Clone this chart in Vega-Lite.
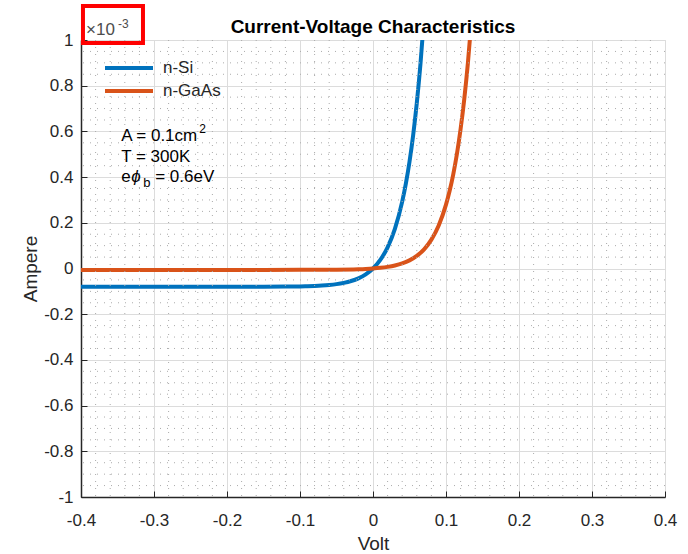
{
  "$schema": "https://vega.github.io/schema/vega-lite/v6.json",
  "autosize": {"type": "none"},
  "width": 584,
  "height": 457,
  "padding": {"left": 81, "top": 40, "right": 23, "bottom": 57},
  "background": "white",
  "title": {"text": "Current-Voltage Characteristics", "fontSize": 19, "fontWeight": "bold", "color": "#000000", "anchor": "middle", "offset": -48, "baseline": "alphabetic", "frame": "group"},
  "config": {
    "font": "Liberation Sans",
    "view": {"stroke": "#d9d9d9", "strokeWidth": 1},
    "axis": {
      "labelFont": "Liberation Sans",
      "titleFont": "Liberation Sans",
      "labelFontSize": 17,
      "titleFontSize": 19,
      "titleFontWeight": "normal",
      "labelColor": "#262626",
      "titleColor": "#262626",
      "domainColor": "#262626",
      "domainWidth": 1.5,
      "tickColor": "#262626",
      "tickSize": -6,
      "tickWidth": 1,
      "gridColor": "#dcdcdc",
      "gridWidth": 1,
      "labelFlush": false,
      "labelOverlap": false
    }
  },
  "datasets": {
    "curves": [
      {"series": "n-Si", "x": -0.4, "y": -0.08},
      {"series": "n-Si", "x": -0.3, "y": -0.08},
      {"series": "n-Si", "x": -0.2, "y": -0.07996},
      {"series": "n-Si", "x": -0.15, "y": -0.07975},
      {"series": "n-Si", "x": -0.12, "y": -0.07921},
      {"series": "n-Si", "x": -0.1, "y": -0.07829},
      {"series": "n-Si", "x": -0.09, "y": -0.07749},
      {"series": "n-Si", "x": -0.08, "y": -0.07631},
      {"series": "n-Si", "x": -0.07, "y": -0.07458},
      {"series": "n-Si", "x": -0.06, "y": -0.07204},
      {"series": "n-Si", "x": -0.05, "y": -0.06831},
      {"series": "n-Si", "x": -0.04, "y": -0.06282},
      {"series": "n-Si", "x": -0.03, "y": -0.05477},
      {"series": "n-Si", "x": -0.02, "y": -0.04293},
      {"series": "n-Si", "x": -0.01, "y": -0.02554},
      {"series": "n-Si", "x": 0, "y": 0},
      {"series": "n-Si", "x": 0.01, "y": 0.03752},
      {"series": "n-Si", "x": 0.02, "y": 0.09264},
      {"series": "n-Si", "x": 0.03, "y": 0.17363},
      {"series": "n-Si", "x": 0.04, "y": 0.2926},
      {"series": "n-Si", "x": 0.045, "y": 0.37162},
      {"series": "n-Si", "x": 0.05, "y": 0.46737},
      {"series": "n-Si", "x": 0.055, "y": 0.58343},
      {"series": "n-Si", "x": 0.06, "y": 0.72409},
      {"series": "n-Si", "x": 0.065, "y": 0.8946},
      {"series": "n-Si", "x": 0.07, "y": 1.10125},
      {"series": "n-Si", "x": 0.075, "y": 1.35168},
      {"series": "n-GaAs", "x": -0.4, "y": -0.0061},
      {"series": "n-GaAs", "x": -0.3, "y": -0.0061},
      {"series": "n-GaAs", "x": -0.2, "y": -0.0061},
      {"series": "n-GaAs", "x": -0.1, "y": -0.00597},
      {"series": "n-GaAs", "x": -0.05, "y": -0.00521},
      {"series": "n-GaAs", "x": -0.02, "y": -0.00327},
      {"series": "n-GaAs", "x": -0.01, "y": -0.00195},
      {"series": "n-GaAs", "x": 0, "y": 0},
      {"series": "n-GaAs", "x": 0.01, "y": 0.00286},
      {"series": "n-GaAs", "x": 0.02, "y": 0.00706},
      {"series": "n-GaAs", "x": 0.03, "y": 0.01325},
      {"series": "n-GaAs", "x": 0.04, "y": 0.02231},
      {"series": "n-GaAs", "x": 0.05, "y": 0.03564},
      {"series": "n-GaAs", "x": 0.06, "y": 0.05521},
      {"series": "n-GaAs", "x": 0.07, "y": 0.08397},
      {"series": "n-GaAs", "x": 0.08, "y": 0.12622},
      {"series": "n-GaAs", "x": 0.09, "y": 0.18829},
      {"series": "n-GaAs", "x": 0.1, "y": 0.27948},
      {"series": "n-GaAs", "x": 0.105, "y": 0.34},
      {"series": "n-GaAs", "x": 0.11, "y": 0.41337},
      {"series": "n-GaAs", "x": 0.115, "y": 0.50227},
      {"series": "n-GaAs", "x": 0.12, "y": 0.61012},
      {"series": "n-GaAs", "x": 0.125, "y": 0.74078},
      {"series": "n-GaAs", "x": 0.13, "y": 0.89921},
      {"series": "n-GaAs", "x": 0.135, "y": 1.09117},
      {"series": "n-GaAs", "x": 0.14, "y": 1.3237}
    ],
    "minorX": [
      {"x": -0.38}, {"x": -0.36}, {"x": -0.34}, {"x": -0.32},
      {"x": -0.28}, {"x": -0.26}, {"x": -0.24}, {"x": -0.22},
      {"x": -0.18}, {"x": -0.16}, {"x": -0.14}, {"x": -0.12},
      {"x": -0.08}, {"x": -0.06}, {"x": -0.04}, {"x": -0.02},
      {"x": 0.02}, {"x": 0.04}, {"x": 0.06}, {"x": 0.08},
      {"x": 0.12}, {"x": 0.14}, {"x": 0.16}, {"x": 0.18},
      {"x": 0.22}, {"x": 0.24}, {"x": 0.26}, {"x": 0.28},
      {"x": 0.32}, {"x": 0.34}, {"x": 0.36}, {"x": 0.38}
    ],
    "minorY": [
      {"y": -0.95}, {"y": -0.9}, {"y": -0.85},
      {"y": -0.75}, {"y": -0.7}, {"y": -0.65},
      {"y": -0.55}, {"y": -0.5}, {"y": -0.45},
      {"y": -0.35}, {"y": -0.3}, {"y": -0.25},
      {"y": -0.15}, {"y": -0.1}, {"y": -0.05},
      {"y": 0.05}, {"y": 0.1}, {"y": 0.15},
      {"y": 0.25}, {"y": 0.3}, {"y": 0.35},
      {"y": 0.45}, {"y": 0.5}, {"y": 0.55},
      {"y": 0.65}, {"y": 0.7}, {"y": 0.75},
      {"y": 0.85}, {"y": 0.9}, {"y": 0.95}
    ],
    "notes": [
      {"x": -0.345, "y": 0.56, "t": "A = 0.1cm", "p": "main"},
      {"x": -0.345, "y": 0.56, "t": "2", "p": "sup"},
      {"x": -0.345, "y": 0.466, "t": "T = 300K", "p": "main"},
      {"x": -0.345, "y": 0.379, "t": "e", "p": "main"},
      {"x": -0.345, "y": 0.379, "t": "ϕ", "p": "phi"},
      {"x": -0.345, "y": 0.379, "t": "b", "p": "sub"},
      {"x": -0.345, "y": 0.379, "t": "= 0.6eV", "p": "rest"}
    ],
    "expo": [
      {"x": -0.4, "y": 1.022, "t": "×10", "p": "base"},
      {"x": -0.4, "y": 1.022, "t": "-3", "p": "pow"}
    ],
    "box": [
      {"x": -0.3973, "x2": -0.3151, "y": 1.1488, "y2": 0.9869}
    ]
  },
  "layer": [
    {
      "data": {"name": "curves"},
      "mark": {"type": "line", "strokeWidth": 4, "interpolate": "monotone", "clip": true},
      "encoding": {
        "x": {
          "field": "x", "type": "quantitative", "title": "Volt",
          "scale": {"domain": [-0.4, 0.4], "nice": false, "zero": false},
          "axis": {
            "values": [-0.4, -0.3, -0.2, -0.1, 0, 0.1, 0.2, 0.3, 0.4],
            "grid": true,
            "labelPadding": 21,
            "titlePadding": 6,
            "labelExpr": "datum.value < 0 ? '-' + format(-datum.value, '~g') : format(datum.value, '~g')"
          }
        },
        "y": {
          "field": "y", "type": "quantitative", "title": "Ampere",
          "scale": {"domain": [-1, 1], "nice": false, "zero": false},
          "axis": {
            "values": [-1, -0.8, -0.6, -0.4, -0.2, 0, 0.2, 0.4, 0.6, 0.8, 1],
            "grid": true,
            "labelPadding": 14,
            "titlePadding": 3,
            "labelExpr": "datum.value < 0 ? '-' + format(-datum.value, '~g') : format(datum.value, '~g')"
          }
        },
        "color": {
          "field": "series", "type": "nominal",
          "scale": {"domain": ["n-Si", "n-GaAs"], "range": ["#0072BD", "#D95319"]},
          "legend": {
            "title": null,
            "orient": "none",
            "legendX": 38,
            "legendY": 18,
            "symbolType": "M-3,0H3",
            "symbolSize": 256,
            "symbolStrokeWidth": 4,
            "labelFontSize": 17,
            "labelColor": "#262626",
            "labelOffset": 24,
            "rowPadding": 5,
            "padding": 0
          }
        }
      }
    },
    {
      "data": {"name": "minorX"},
      "mark": {"type": "rule", "stroke": "#ababab", "strokeWidth": 1, "strokeDash": [1, 6]},
      "encoding": {
        "x": {"field": "x", "type": "quantitative"}
      }
    },
    {
      "data": {"name": "minorY"},
      "mark": {"type": "rule", "stroke": "#ababab", "strokeWidth": 1, "strokeDash": [1, 6]},
      "encoding": {
        "y": {"field": "y", "type": "quantitative"}
      }
    },
    {
      "data": {"name": "notes"},
      "transform": [{"filter": "datum.p === 'main'"}],
      "mark": {"type": "text", "align": "left", "baseline": "alphabetic", "fontSize": 17, "color": "#000000"},
      "encoding": {
        "x": {"field": "x", "type": "quantitative"},
        "y": {"field": "y", "type": "quantitative"},
        "text": {"field": "t"}
      }
    },
    {
      "data": {"name": "notes"},
      "transform": [{"filter": "datum.p === 'sup'"}],
      "mark": {"type": "text", "align": "left", "baseline": "alphabetic", "fontSize": 12, "dx": 78, "dy": -8, "color": "#000000"},
      "encoding": {
        "x": {"field": "x", "type": "quantitative"},
        "y": {"field": "y", "type": "quantitative"},
        "text": {"field": "t"}
      }
    },
    {
      "data": {"name": "notes"},
      "transform": [{"filter": "datum.p === 'phi'"}],
      "mark": {"type": "text", "align": "left", "baseline": "alphabetic", "fontSize": 17, "fontStyle": "italic", "dx": 10, "color": "#000000"},
      "encoding": {
        "x": {"field": "x", "type": "quantitative"},
        "y": {"field": "y", "type": "quantitative"},
        "text": {"field": "t"}
      }
    },
    {
      "data": {"name": "notes"},
      "transform": [{"filter": "datum.p === 'sub'"}],
      "mark": {"type": "text", "align": "left", "baseline": "alphabetic", "fontSize": 13, "dx": 22, "dy": 5, "color": "#000000"},
      "encoding": {
        "x": {"field": "x", "type": "quantitative"},
        "y": {"field": "y", "type": "quantitative"},
        "text": {"field": "t"}
      }
    },
    {
      "data": {"name": "notes"},
      "transform": [{"filter": "datum.p === 'rest'"}],
      "mark": {"type": "text", "align": "left", "baseline": "alphabetic", "fontSize": 17, "dx": 34, "color": "#000000"},
      "encoding": {
        "x": {"field": "x", "type": "quantitative"},
        "y": {"field": "y", "type": "quantitative"},
        "text": {"field": "t"}
      }
    },
    {
      "data": {"name": "expo"},
      "transform": [{"filter": "datum.p === 'base'"}],
      "mark": {"type": "text", "align": "left", "baseline": "alphabetic", "fontSize": 17, "dx": 5, "color": "#4d4d4d", "clip": false},
      "encoding": {
        "x": {"field": "x", "type": "quantitative"},
        "y": {"field": "y", "type": "quantitative"},
        "text": {"field": "t"}
      }
    },
    {
      "data": {"name": "expo"},
      "transform": [{"filter": "datum.p === 'pow'"}],
      "mark": {"type": "text", "align": "left", "baseline": "alphabetic", "fontSize": 12, "dx": 37, "dy": -7, "color": "#4d4d4d", "clip": false},
      "encoding": {
        "x": {"field": "x", "type": "quantitative"},
        "y": {"field": "y", "type": "quantitative"},
        "text": {"field": "t"}
      }
    },
    {
      "data": {"name": "box"},
      "mark": {"type": "rect", "filled": false, "stroke": "#ff0000", "strokeWidth": 4, "clip": false},
      "encoding": {
        "x": {"field": "x", "type": "quantitative"},
        "x2": {"field": "x2"},
        "y": {"field": "y", "type": "quantitative"},
        "y2": {"field": "y2"}
      }
    }
  ]
}
